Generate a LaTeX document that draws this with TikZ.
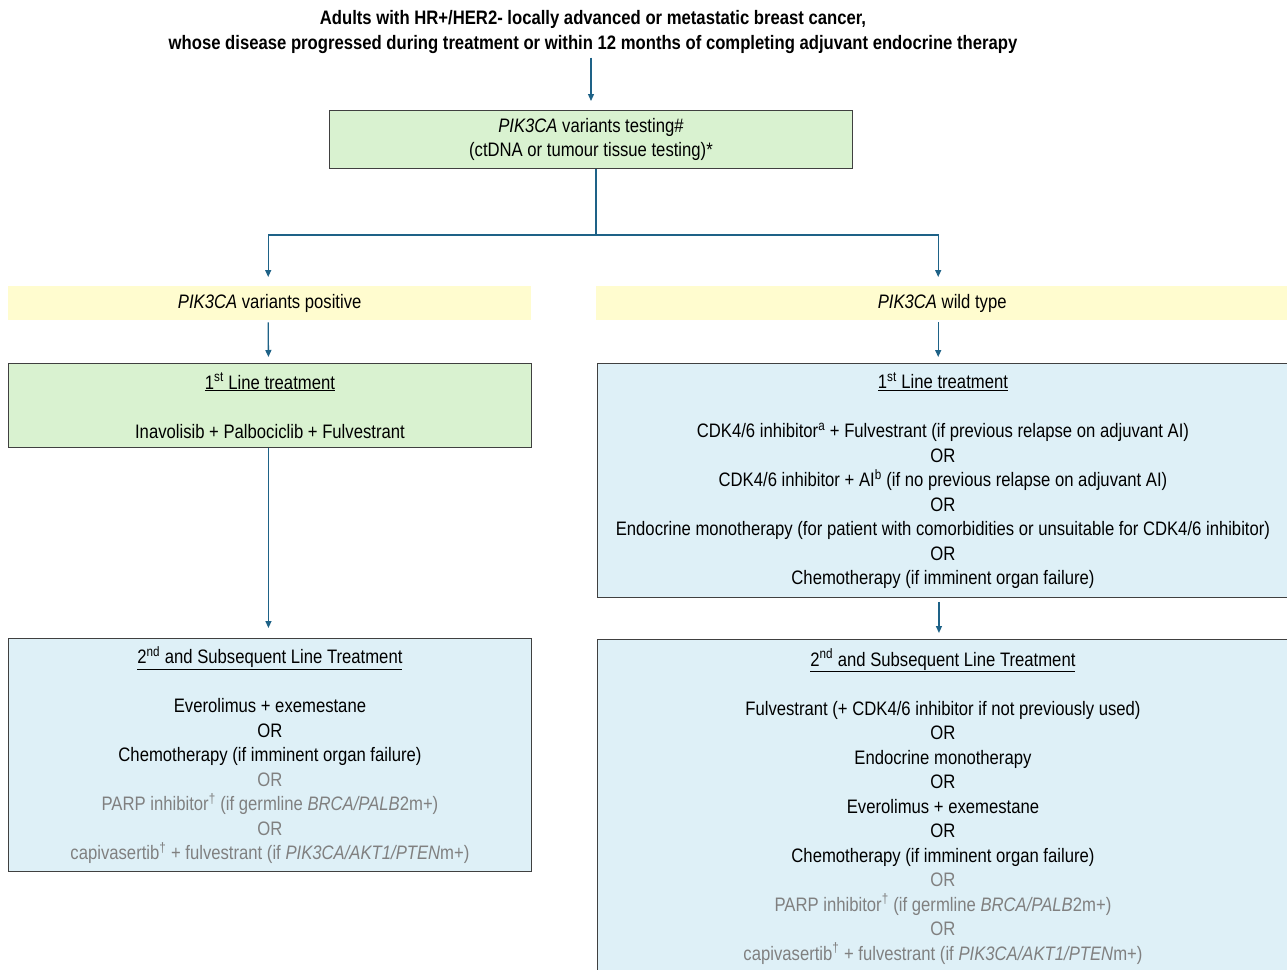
\documentclass[tikz,border=0pt]{standalone}
\usepackage{fontspec}
\setmainfont[FakeStretch=0.855]{Liberation Sans}
\usetikzlibrary{arrows.meta,calc}
\definecolor{boxgreen}{RGB}{217,242,208}
\definecolor{baryellow}{RGB}{255,252,207}
\definecolor{boxblue}{RGB}{222,240,247}
\definecolor{edgegray}{RGB}{64,64,64}
\definecolor{arrblue}{RGB}{30,98,135}
\definecolor{softgray}{RGB}{128,128,128}
\begin{document}
\begin{tikzpicture}[x=1pt,y=1pt,
  every node/.style={font=\fontsize{19.5}{24.5}\selectfont},
  box/.style={draw=edgegray, line width=0.9pt, inner sep=0pt, align=center, anchor=north west},
  bar/.style={inner sep=0pt, align=center, anchor=north west, fill=baryellow},
  arr/.style={draw=arrblue, line width=1.3pt, -{Triangle[length=7pt,width=6pt]}},
  link/.style={draw=arrblue, line width=1.4pt}]
\useasboundingbox (0,0) rectangle (1287,-969);
\clip (0,0) rectangle (1287,-969);
\fill[white] (0,0) rectangle (1287,-969);

\node[align=center, font=\fontsize{19.5}{25}\selectfont\bfseries] (title) at (593,-32.5)
  {Adults with HR+/HER2- locally advanced or metastatic breast cancer,\\
   whose disease progressed during treatment or within 12 months of completing adjuvant endocrine therapy};

\node[box, fill=boxgreen, minimum width=523pt, minimum height=58pt] (test) at (329,-110)
  {\textit{PIK3CA} variants testing\#\\(ctDNA or tumour tissue testing)*};

\node[bar, minimum width=523pt, minimum height=34pt] (pos) at (8,-286)
  {\textit{PIK3CA} variants positive};
\node[bar, minimum width=692pt, minimum height=34pt] (wt) at (596,-286)
  {\textit{PIK3CA} wild type};

\node[box, fill=boxgreen, minimum width=523pt, minimum height=84pt] (pos1) at (8,-363)
  {\underline{1\textsuperscript{st} Line treatment}\\[24.5pt]
   Inavolisib + Palbociclib + Fulvestrant};

\node[box, fill=boxblue, minimum width=691pt, minimum height=234pt] (wt1) at (597,-363)
  {\underline{1\textsuperscript{st} Line treatment}\\[24.5pt]
   CDK4/6 inhibitor\textsuperscript{a} + Fulvestrant (if previous relapse on adjuvant AI)\\
   OR\\
   CDK4/6 inhibitor + AI\textsuperscript{b} (if no previous relapse on adjuvant AI)\\
   OR\\
   Endocrine monotherapy (for patient with comorbidities or unsuitable for CDK4/6 inhibitor)\\
   OR\\
   Chemotherapy (if imminent organ failure)};

\node[box, fill=boxblue, minimum width=523pt, minimum height=233pt] (pos2) at (8,-638)
  {\underline{2\textsuperscript{nd} and Subsequent Line Treatment}\\[24.5pt]
   Everolimus + exemestane\\
   OR\\
   Chemotherapy (if imminent organ failure)\\
   \color{softgray}OR\\
   \color{softgray}PARP inhibitor\textsuperscript{†} (if germline \textit{BRCA/PALB}2m+)\\
   \color{softgray}OR\\
   \color{softgray}capivasertib\textsuperscript{†} + fulvestrant (if \textit{PIK3CA/AKT1/PTEN}m+)};

\node[box, fill=boxblue, minimum width=691pt, minimum height=334pt] (wt2) at (597,-639)
  {\underline{2\textsuperscript{nd} and Subsequent Line Treatment}\\[24.5pt]
   Fulvestrant (+ CDK4/6 inhibitor if not previously used)\\
   OR\\
   Endocrine monotherapy\\
   OR\\
   Everolimus + exemestane\\
   OR\\
   Chemotherapy (if imminent organ failure)\\
   \color{softgray}OR\\
   \color{softgray}PARP inhibitor\textsuperscript{†} (if germline \textit{BRCA/PALB}2m+)\\
   \color{softgray}OR\\
   \color{softgray}capivasertib\textsuperscript{†} + fulvestrant (if \textit{PIK3CA/AKT1/PTEN}m+)};

% connectors
\coordinate (split) at ($(test.south)+(5,-66)$);
\draw[arr, shorten >=9pt] ([xshift=-2pt]title.south) -- ([xshift=-2pt]title.south |- test.north);
\draw[link] ([xshift=5pt]test.south) -- (split);
\draw[arr, shorten >=9pt] (split) -| ([xshift=-1.5pt]pos.north);
\draw[arr, shorten >=9pt] (split) -| ([xshift=-4pt]wt.north);
\draw[arr, shorten <=2pt, shorten >=6pt] ([xshift=-1.5pt]pos.south) -- ([xshift=-1.5pt]pos1.north);
\draw[arr, shorten <=2pt, shorten >=6pt] ([xshift=-4pt]wt.south) -- ([xshift=-4pt]wt.south |- wt1.north);
\draw[arr, shorten >=10pt] ([xshift=-1.5pt]pos1.south) -- ([xshift=-1.5pt]pos2.north);
\draw[arr, shorten <=4pt, shorten >=6pt] ([xshift=-4pt]wt1.south) -- ([xshift=-4pt]wt1.south |- wt2.north);
\end{tikzpicture}
\end{document}
